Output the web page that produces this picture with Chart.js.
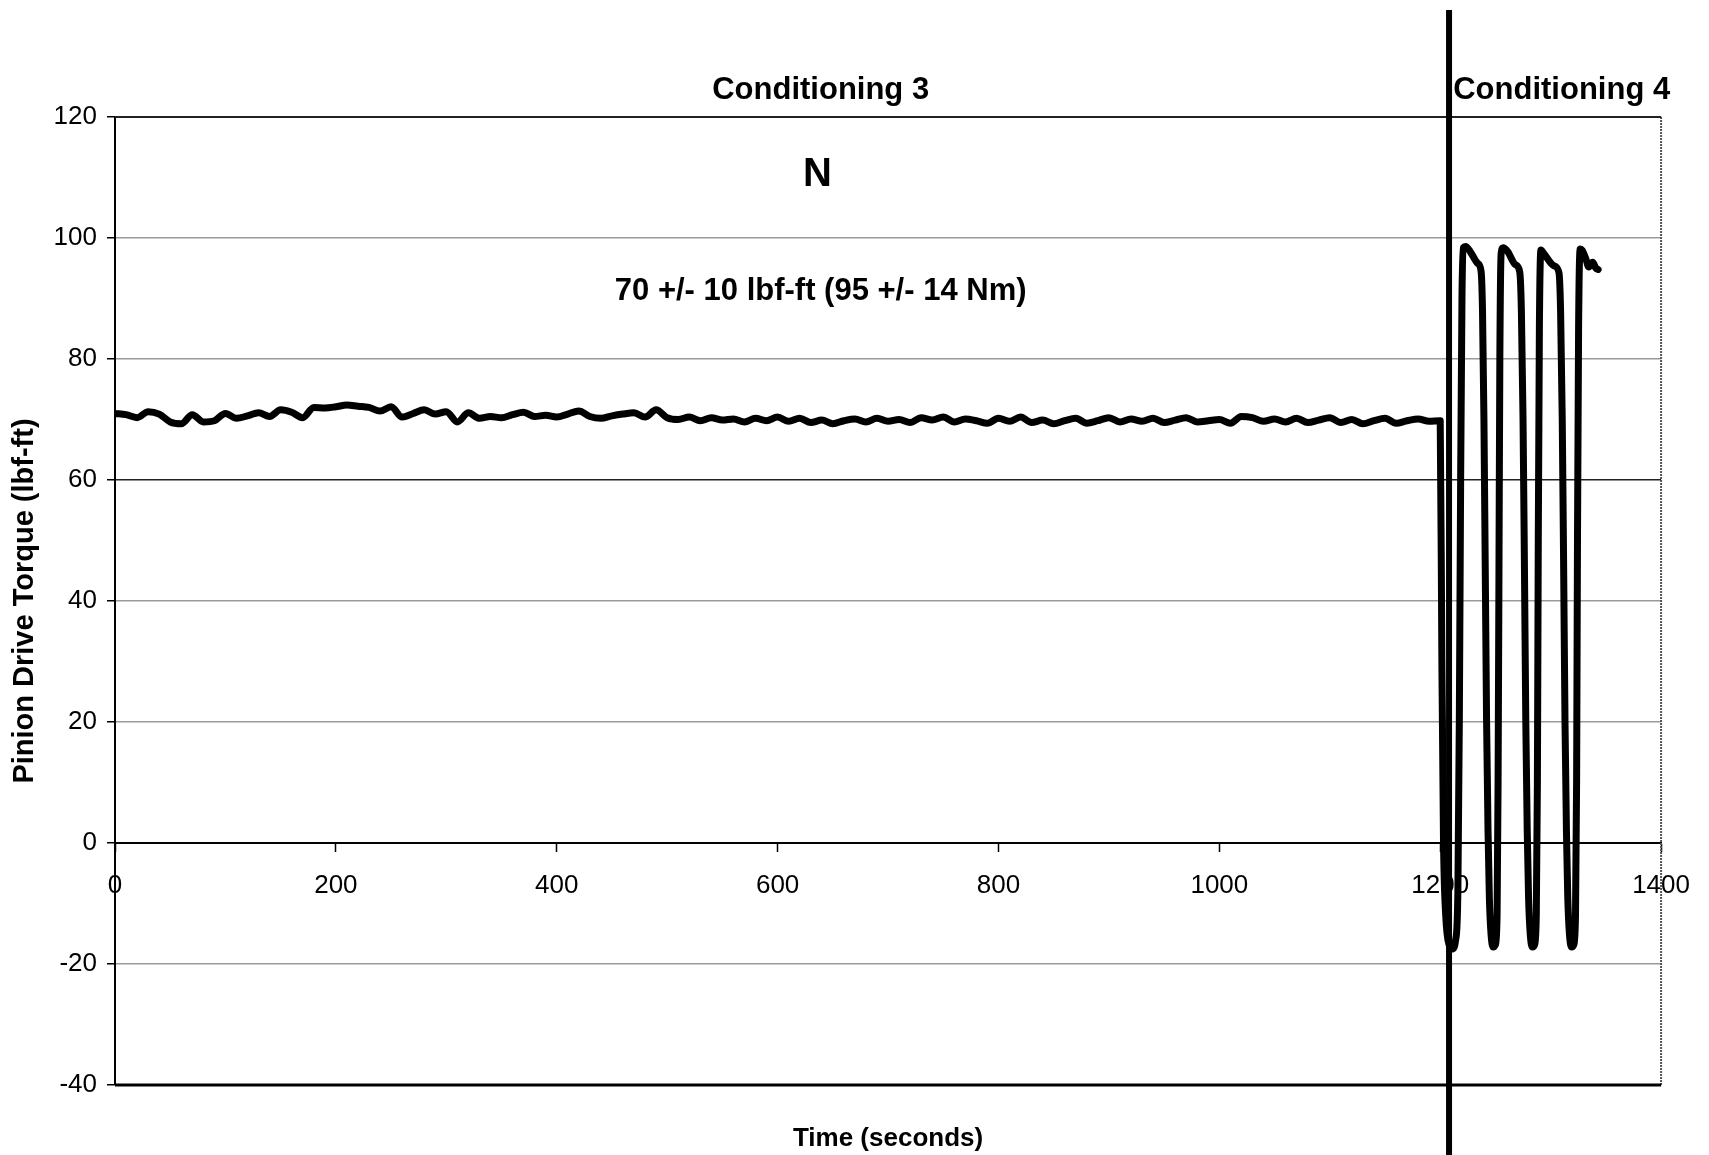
<!DOCTYPE html>
<html>
<head>
<meta charset="utf-8">
<title>Pinion Drive Torque</title>
<script src="https://cdn.jsdelivr.net/npm/chart.js@4.4.1/dist/chart.umd.min.js"></script>
<style>
  html, body { margin: 0; padding: 0; background: #fff; }
  #wrap { width: 1709px; height: 1155px; }
</style>
</head>
<body>
<div id="wrap"><canvas id="chart" width="1709" height="1155"></canvas></div>
<script>
/*global Chart*/
'use strict';

//
// Conditioning 3: steady torque, one reading every 10 s starting at t = 0.
//
var sampleStep = 10;
var steadyTorque = [
  71.0, 70.8, 70.3, 71.3, 70.9, 69.6, 69.3, 70.8, 69.6, 69.8,
  71.0, 70.2, 70.6, 71.1, 70.5, 71.6, 71.2, 70.3, 72.0, 71.9,
  72.1, 72.4, 72.2, 72.0, 71.4, 72.1, 70.4, 71.0, 71.6, 70.9,
  71.3, 69.6, 71.1, 70.2, 70.5, 70.3, 70.8, 71.2, 70.5, 70.7,
  70.4, 70.9, 71.4, 70.5, 70.2, 70.6, 70.9, 71.1, 70.4, 71.6,
  70.3, 70.0, 70.4, 69.8, 70.3, 69.9, 70.1, 69.6, 70.2, 69.8,
  70.4, 69.7, 70.2, 69.5, 69.9, 69.3, 69.8, 70.1, 69.6, 70.2,
  69.7, 70.0, 69.5, 70.3, 69.9, 70.4, 69.6, 70.1, 69.8, 69.4,
  70.2, 69.7, 70.4, 69.5, 69.9, 69.3, 69.8, 70.2, 69.4, 69.8,
  70.3, 69.6, 70.1, 69.7, 70.2, 69.5, 69.9, 70.3, 69.6, 69.8,
  70.0, 69.4, 70.5, 70.3, 69.7, 70.1, 69.6, 70.2, 69.5, 69.9,
  70.3, 69.5, 70.0, 69.3, 69.8, 70.2, 69.4, 69.8, 70.1, 69.7,
  69.8
];

//
// Conditioning 4: torque reversals (seconds / lbf-ft).
//
var cycleTime = [
  1201.5, 1203, 1205, 1208, 1211, 1214, 1216, 1217.3, 1218.5, 1219.7, 1221,
  1223, 1227, 1234, 1237, 1238.3, 1239.6, 1240.8, 1242, 1243.3, 1244.5,
  1246, 1248, 1250, 1251.5, 1252.4, 1253.2, 1254, 1255.2,
  1257, 1261, 1268, 1272, 1273.5, 1275, 1276.3, 1277.5, 1278.8, 1280,
  1281.5, 1283.5, 1285.5, 1287, 1288, 1288.8, 1289.8, 1291.2,
  1294, 1303, 1307.5, 1309, 1310.5, 1311.8, 1313, 1314.3, 1315.5,
  1317, 1319, 1321, 1322.5, 1323.5, 1324.3, 1325.3, 1326.8,
  1328.5, 1332, 1334.5, 1338, 1341, 1343
];
var cycleTorque = [
  30, 0, -12, -16.8, -17.5, -16, -8, 20, 60, 90, 98.4,
  98.6, 97.8, 95.8, 94.5, 88, 70, 45, 20, 2, -9,
  -15, -17.2, -16.8, -12, 10, 45, 80, 97.5,
  98.4, 97.8, 95.6, 94.4, 88, 70, 45, 20, 2, -9,
  -15, -17.2, -16.8, -12, 10, 50, 85, 98,
  97.4, 95.4, 94.3, 88, 70, 45, 20, 2, -9,
  -15, -17.2, -16.8, -12, 10, 50, 85, 98.2,
  98, 96.5, 95.2, 96, 95, 94.8
];

var xTicks = [0, 200, 400, 600, 800, 1000, 1200, 1400];
var yTicks = [-40, -20, 0, 20, 40, 60, 80, 100, 120];

// Time at which conditioning 3 hands over to conditioning 4.
var phaseBoundary = 1208;

// Text placed on the plot, anchored in data units (time, torque at baseline).
var notes = [
  { text: 'Conditioning 3', t: 639, v: 122.9, size: 31 },
  { text: 'Conditioning 4', t: 1310, v: 122.9, size: 31 },
  { text: 'N', t: 636, v: 108.6, size: 40 },
  { text: '70 +/- 10 lbf-ft (95 +/- 14 Nm)', t: 639, v: 89.7, size: 31 }
];

var FAMILY = '"Liberation Sans", Arial, Helvetica, sans-serif';

//
// Build the point list for the single trace.
//
var points = steadyTorque.map(function map(v, i) {
  return { x: i * sampleStep, y: v };
}).concat(cycleTime.map(function map(t, i) {
  return { x: t, y: cycleTorque[i] };
}));

/**
 * Gridline colour: zero and the outer edges are black, 60 is dark,
 * the rest are a light scanner grey.
 */
function gridColor(ctx) {
  var v = ctx.tick && ctx.tick.value;
  if (v === 0 || v === -40) return '#000';
  if (v === 120) return '#333';
  if (v === 60) return '#222';
  return '#9a9a9a';
}

var frame = {
  id: 'frame',
  afterDraw: function afterDraw(chart) {
    var ctx = chart.ctx
      , area = chart.chartArea
      , x = chart.scales.x
      , y = chart.scales.y;

    ctx.save();

    //
    // Right edge of the plot box, a dotted grey rule.
    //
    ctx.strokeStyle = '#555';
    ctx.lineWidth = 2;
    ctx.setLineDash([2, 1]);
    ctx.beginPath();
    ctx.moveTo(area.right, area.top);
    ctx.lineTo(area.right, area.bottom);
    ctx.stroke();
    ctx.setLineDash([]);

    //
    // Top and bottom edges.
    //
    ctx.strokeStyle = '#222';
    ctx.lineWidth = 2;
    ctx.beginPath();
    ctx.moveTo(area.left, area.top);
    ctx.lineTo(area.right, area.top);
    ctx.stroke();
    ctx.strokeStyle = '#000';
    ctx.lineWidth = 3;
    ctx.beginPath();
    ctx.moveTo(area.left, area.bottom);
    ctx.lineTo(area.right, area.bottom);
    ctx.stroke();

    //
    // Phase boundary runs the full height of the figure.
    //
    var bx = x.getPixelForValue(phaseBoundary);
    ctx.strokeStyle = '#000';
    ctx.lineWidth = 6;
    ctx.beginPath();
    ctx.moveTo(bx, 10);
    ctx.lineTo(bx, chart.height);
    ctx.stroke();

    //
    // Annotations and the x axis title.
    //
    ctx.fillStyle = '#000';
    ctx.textAlign = 'center';
    ctx.textBaseline = 'alphabetic';
    notes.forEach(function each(n) {
      ctx.font = 'bold ' + n.size + 'px ' + FAMILY;
      ctx.fillText(n.text, x.getPixelForValue(n.t), y.getPixelForValue(n.v));
    });

    ctx.font = 'bold 26px ' + FAMILY;
    ctx.fillText('Time (seconds)', (area.left + area.right) / 2, 1146);

    ctx.restore();
  }
};

new Chart(document.getElementById('chart'), {
  type: 'line',
  data: {
    datasets: [{
      data: points,
      borderColor: '#000',
      borderWidth: 7,
      borderJoinStyle: 'round',
      borderCapStyle: 'round',
      pointRadius: 0,
      cubicInterpolationMode: 'monotone',
      fill: false
    }]
  },
  options: {
    responsive: false,
    animation: false,
    devicePixelRatio: 1,
    layout: { padding: { left: 0, top: 117, right: 36, bottom: 70 } },
    plugins: {
      legend: { display: false },
      tooltip: { enabled: false }
    },
    scales: {
      x: {
        type: 'linear',
        position: { y: 0 },
        min: 0,
        max: 1400,
        afterBuildTicks: function (scale) {
          scale.ticks = xTicks.map(function (v) { return { value: v }; });
        },
        grid: {
          drawOnChartArea: false,
          drawTicks: true,
          tickLength: 8,
          tickColor: '#000',
          tickWidth: 1.5
        },
        border: { color: '#000', width: 2 },
        ticks: {
          autoSkip: false,
          maxRotation: 0,
          padding: 19,
          color: '#000',
          font: { family: FAMILY, size: 26 },
          callback: function (v) { return String(v); }
        }
      },
      y: {
        type: 'linear',
        position: 'left',
        min: -40,
        max: 120,
        afterBuildTicks: function (scale) {
          scale.ticks = yTicks.map(function (v) { return { value: v }; });
        },
        afterFit: function (scale) {
          scale.width = 115;
        },
        grid: {
          color: gridColor,
          lineWidth: 1.5,
          tickLength: 8,
          tickColor: '#000',
          tickWidth: 1.5
        },
        border: { color: '#000', width: 2 },
        ticks: {
          padding: 10,
          color: '#000',
          font: { family: FAMILY, size: 26 },
          callback: function (v) { return String(v); }
        },
        title: {
          display: true,
          text: 'Pinion Drive Torque (lbf-ft)',
          color: '#000',
          font: { family: FAMILY, size: 29, weight: 'bold' },
          padding: { top: 8, bottom: 0 }
        }
      }
    }
  },
  plugins: [frame]
});
</script>
</body>
</html>
